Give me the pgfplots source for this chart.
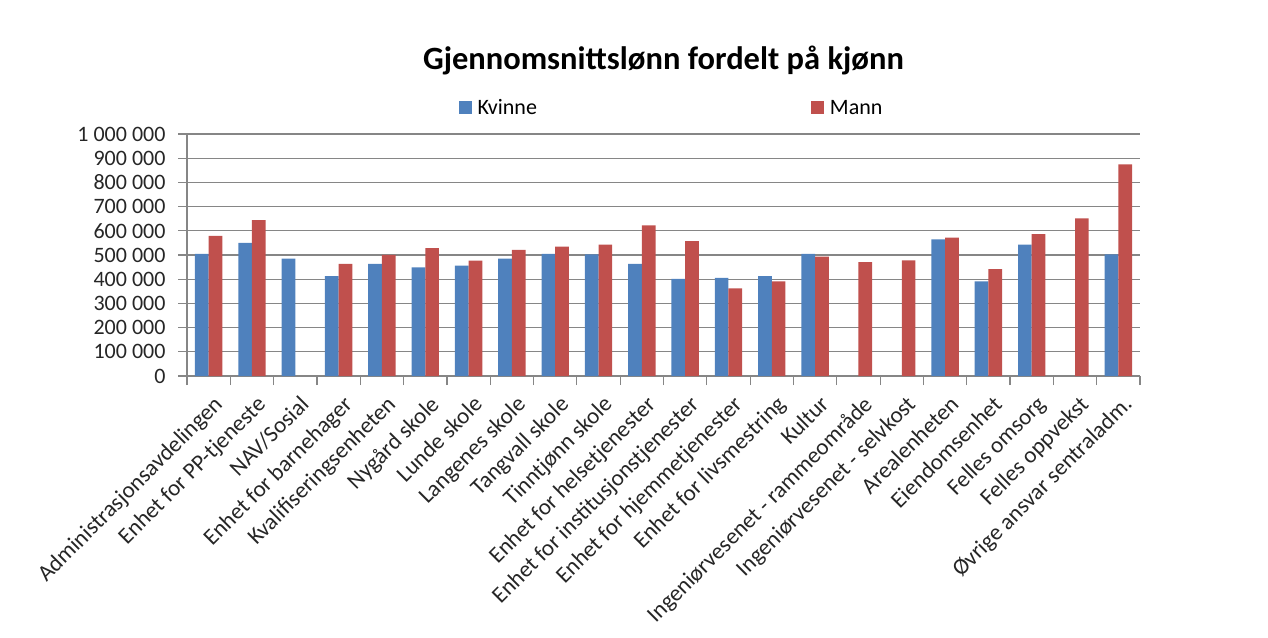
\documentclass[border=0pt]{standalone}
\usepackage{fontspec}
\setmainfont{Carlito}
\usepackage{pgfplots}
\pgfplotsset{compat=1.18}
\definecolor{kv}{HTML}{4F81BD}
\definecolor{ma}{HTML}{C0504D}
\definecolor{gridc}{HTML}{868686}
\begin{document}
\begin{tikzpicture}
\useasboundingbox (0,0) rectangle (1268pt,637pt);
\begin{axis}[
 at={(187pt,261pt)}, anchor=south west,
 scale only axis, width=953pt, height=242pt,
 ybar=0pt, bar width=0.316,
 xmin=-0.5, xmax=21.5, ymin=0, ymax=1000000,
 axis x line*=bottom, axis y line*=left,
 axis line style={gridc, line width=1.2pt, -},
 xtick={0,...,21},
 xticklabels={Administrasjonsavdelingen, Enhet for PP-tjeneste, NAV/Sosial, Enhet for barnehager, Kvalifiseringsenheten, Nygård skole, Lunde skole, Langenes skole, Tangvall skole, Tinntjønn skole, Enhet for helsetjenester, Enhet for institusjonstjenester, Enhet for hjemmetjenester, Enhet for livsmestring, Kultur, Ingeniørvesenet - rammeområde, Ingeniørvesenet - selvkost, Arealenheten, Eiendomsenhet, Felles omsorg, Felles oppvekst, Øvrige ansvar sentraladm.},
 minor xtick={-0.5,0.5,...,21.5},
 major x tick style={draw=none},
 ytick={0,100000,...,1000000},
 scaled y ticks=false,
 tick align=outside,
 major tick length=9pt, minor tick length=9pt,
 every tick/.style={gridc, line width=1.2pt},
 ymajorgrids, major grid style={gridc, line width=1.2pt},
 yticklabel={\pgfmathprintnumber[fixed, precision=0, 1000 sep={\ }, assume math mode=true]{\tick}},
 yticklabel style={font=\fontsize{22}{24}\selectfont, xshift=-9pt, text=black!85},
 xticklabel style={font=\fontsize{23}{25}\selectfont, rotate=45, anchor=north east, inner sep=2pt, xshift=-2pt, yshift=-7pt, text=black!85},
 title={Gjennomsnittslønn fordelt på kjønn},
 title style={font=\bfseries\fontsize{32.5}{36}\selectfont, at={(0.5,1)}, anchor=center, yshift=68pt},
 legend columns=2,
 legend style={draw=none, at={(0.5,1)}, anchor=center, yshift=26pt, xshift=8pt,
   font=\fontsize{22}{24}\selectfont,
   /tikz/every odd column/.append style={column sep=4pt},
   /tikz/every even column/.append style={column sep=272pt}},
]
\addplot[fill=kv, draw=none, legend image code/.code={\fill[kv] (0pt,-6.5pt) rectangle (13pt,6.5pt);}] coordinates {
(0,505000)(1,550000)(2,485000)(3,413000)(4,463000)(5,449000)(6,456000)(7,485000)(8,505000)(9,503000)(10,463000)(11,401000)(12,405000)(13,413000)(14,505000)(17,565000)(18,391000)(19,543000)(21,503000)};
\addlegendentry{Kvinne}
\addplot[fill=ma, draw=none, legend image code/.code={\fill[ma] (0pt,-6.5pt) rectangle (13pt,6.5pt);}] coordinates {
(0,579000)(1,644000)(3,463000)(4,501000)(5,528000)(6,477000)(7,521000)(8,535000)(9,543000)(10,622000)(11,557000)(12,362000)(13,391000)(14,493000)(15,471000)(16,478000)(17,572000)(18,442000)(19,586000)(20,651000)(21,874000)};
\addlegendentry{Mann}
\end{axis}
\end{tikzpicture}
\end{document}
